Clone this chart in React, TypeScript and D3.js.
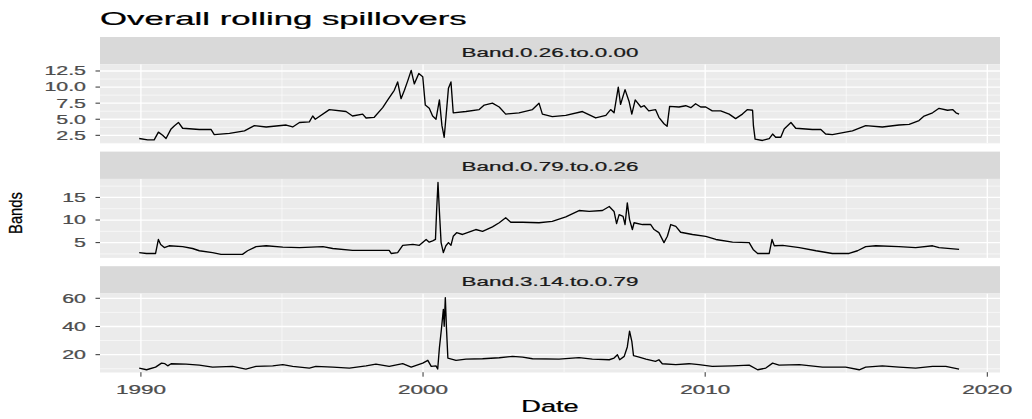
import React from 'react'
import { scaleLinear, line } from 'd3'

// decimal year, value
const band1: [number, number][] = [
  [1989.94, 2.0], [1990.24, 1.8], [1990.47, 1.8], [1990.62, 3.0], [1990.77, 2.5], [1990.89, 2.0],
  [1991.07, 3.5], [1991.19, 4.0], [1991.33, 4.5], [1991.48, 3.6], [1992.07, 3.4], [1992.49, 3.4],
  [1992.6, 2.6], [1993.14, 2.8], [1993.67, 3.2], [1994.02, 4.0], [1994.44, 3.8], [1995.15, 4.1],
  [1995.38, 3.8], [1995.62, 4.5], [1995.97, 4.6], [1996.09, 5.5], [1996.18, 5.0], [1996.68, 6.5],
  [1997.27, 6.2], [1997.5, 5.5], [1997.86, 5.8], [1997.98, 5.2], [1998.27, 5.3], [1998.57, 6.8],
  [1998.75, 8.0], [1998.98, 9.5], [1999.1, 10.8], [1999.22, 8.2], [1999.34, 9.5], [1999.46, 11.0],
  [1999.58, 12.6], [1999.69, 10.5], [1999.85, 12.1], [1999.99, 11.6], [2000.08, 7.2], [2000.22, 6.7],
  [2000.34, 5.5], [2000.46, 5.0], [2000.58, 8.0], [2000.67, 4.0], [2000.75, 2.2], [2000.81, 5.2],
  [2000.9, 9.8], [2000.99, 10.8], [2001.07, 6.0], [2001.52, 6.2], [2001.99, 6.5], [2002.17, 7.2],
  [2002.46, 7.5], [2002.7, 6.9], [2002.93, 5.8], [2003.4, 6.0], [2003.88, 6.5], [2004.11, 7.5],
  [2004.23, 5.8], [2004.58, 5.4], [2005.06, 5.6], [2005.65, 6.2], [2006.12, 5.2], [2006.48, 5.6],
  [2006.65, 6.5], [2006.77, 6.0], [2006.92, 10.0], [2007.0, 7.3], [2007.16, 9.6], [2007.3, 7.8],
  [2007.4, 5.8], [2007.52, 8.0], [2007.72, 6.9], [2007.84, 7.1], [2008.0, 6.3], [2008.24, 6.5],
  [2008.36, 5.3], [2008.54, 4.3], [2008.65, 3.9], [2008.74, 7.0], [2009.07, 6.9], [2009.31, 7.1],
  [2009.49, 6.8], [2009.66, 7.4], [2009.84, 6.9], [2010.02, 6.9], [2010.25, 6.3], [2010.55, 6.3],
  [2010.85, 5.8], [2011.08, 5.1], [2011.32, 5.8], [2011.5, 6.5], [2011.68, 6.4], [2011.71, 4.0],
  [2011.77, 1.9], [2012.03, 1.7], [2012.27, 2.0], [2012.39, 2.7], [2012.5, 2.2], [2012.68, 2.2],
  [2012.8, 3.5], [2013.04, 4.5], [2013.21, 3.6], [2013.8, 3.4], [2014.1, 3.4], [2014.27, 2.7],
  [2014.51, 2.6], [2014.98, 3.0], [2015.22, 3.2], [2015.69, 4.0], [2016.28, 3.8], [2016.87, 4.1],
  [2017.23, 4.2], [2017.58, 4.8], [2017.76, 5.5], [2018.06, 6.0], [2018.29, 6.7], [2018.59, 6.4],
  [2018.77, 6.5], [2018.89, 6.0], [2019.0, 5.8],
]

const band2: [number, number][] = [
  [1989.94, 2.8], [1990.2, 2.6], [1990.52, 2.6], [1990.62, 5.7], [1990.7, 4.6], [1990.83, 3.9],
  [1991.0, 4.3], [1991.48, 4.1], [1991.83, 3.7], [1992.07, 3.2], [1992.54, 2.8], [1992.84, 2.4],
  [1993.6, 2.4], [1993.78, 3.2], [1994.08, 4.1], [1994.44, 4.3], [1995.03, 4.0], [1995.62, 3.9],
  [1996.45, 4.1], [1996.8, 3.7], [1997.5, 3.3], [1997.98, 3.3], [1998.8, 3.3], [1998.87, 2.6],
  [1999.1, 2.8], [1999.28, 4.4], [1999.64, 4.6], [1999.87, 4.4], [2000.11, 5.7], [2000.22, 5.1],
  [2000.34, 5.4], [2000.44, 5.7], [2000.48, 11.9], [2000.53, 18.3], [2000.58, 11.9], [2000.64, 5.0],
  [2000.72, 2.8], [2000.81, 4.3], [2000.9, 5.0], [2000.99, 4.4], [2001.07, 6.4], [2001.19, 7.2],
  [2001.4, 6.8], [2001.87, 7.9], [2002.11, 7.5], [2002.46, 8.5], [2002.7, 9.4], [2002.93, 10.5],
  [2003.11, 9.5], [2003.53, 9.5], [2004.11, 9.4], [2004.58, 9.7], [2005.06, 10.7], [2005.53, 12.1],
  [2005.89, 11.9], [2006.36, 12.1], [2006.6, 13.0], [2006.77, 11.9], [2006.86, 9.2], [2006.95, 11.2],
  [2007.09, 10.8], [2007.16, 9.0], [2007.24, 13.8], [2007.32, 10.1], [2007.42, 7.9], [2007.48, 9.4],
  [2007.78, 9.0], [2008.07, 9.0], [2008.19, 7.9], [2008.36, 7.2], [2008.54, 5.0], [2008.66, 6.4],
  [2008.78, 9.0], [2008.96, 8.6], [2009.13, 7.3], [2009.55, 6.8], [2010.02, 6.4], [2010.38, 5.7],
  [2010.97, 5.1], [2011.56, 5.0], [2011.7, 3.5], [2011.86, 2.6], [2012.27, 2.6], [2012.37, 5.7],
  [2012.45, 4.3], [2012.75, 4.4], [2013.34, 3.9], [2013.93, 3.2], [2014.51, 2.6], [2015.1, 2.6],
  [2015.4, 3.2], [2015.69, 4.1], [2016.05, 4.3], [2016.87, 4.1], [2017.46, 3.9], [2018.06, 4.3],
  [2018.29, 3.9], [2019.0, 3.5],
]

const band3: [number, number][] = [
  [1989.94, 10.5], [1990.2, 9.3], [1990.52, 11.2], [1990.73, 14.0], [1990.85, 13.6], [1990.95, 12.1],
  [1991.07, 13.6], [1991.6, 13.3], [1992.07, 12.6], [1992.54, 11.2], [1993.25, 11.7], [1993.72, 9.8],
  [1994.08, 11.7], [1994.67, 12.1], [1995.03, 12.9], [1995.38, 11.7], [1995.97, 10.5], [1996.2, 11.7],
  [1996.8, 11.2], [1997.39, 10.5], [1997.98, 12.1], [1998.33, 13.3], [1998.8, 11.7], [1999.28, 13.6],
  [1999.58, 11.2], [1999.99, 14.0], [2000.17, 16.0], [2000.29, 11.7], [2000.46, 12.1], [2000.52, 9.8],
  [2000.58, 24.8], [2000.65, 37.9], [2000.72, 52.1], [2000.75, 40.2], [2000.79, 60.5], [2000.83, 39.0],
  [2000.88, 17.6], [2001.17, 16.0], [2001.52, 16.9], [2002.11, 17.1], [2002.7, 17.8], [2003.17, 18.8],
  [2003.53, 18.3], [2003.88, 17.1], [2004.82, 16.9], [2005.53, 17.9], [2006.0, 16.9], [2006.6, 16.4],
  [2006.77, 17.6], [2006.89, 20.0], [2006.97, 16.4], [2007.13, 18.8], [2007.24, 25.5], [2007.32, 36.7],
  [2007.4, 29.5], [2007.46, 19.3], [2007.66, 18.3], [2007.9, 16.9], [2008.24, 15.2], [2008.36, 16.4],
  [2008.48, 13.6], [2008.96, 12.9], [2009.43, 13.6], [2009.78, 12.9], [2010.25, 11.7], [2010.97, 12.1],
  [2011.56, 12.6], [2011.86, 9.3], [2012.15, 10.5], [2012.39, 14.0], [2012.62, 12.6], [2013.34, 12.9],
  [2014.16, 11.2], [2014.98, 11.2], [2015.46, 9.3], [2015.69, 11.2], [2016.28, 12.1], [2016.87, 11.2],
  [2017.46, 10.5], [2018.06, 11.7], [2018.53, 11.7], [2019.0, 9.8],
]

const stripLabels = ['Band.0.26.to.0.00', 'Band.0.79.to.0.26', 'Band.3.14.to.0.79']
const yDomains: [number, number][] = [[1.26, 13.54], [1.62, 19.1], [7.36, 63.4]]
const yBreaks = [[2.5, 5, 7.5, 10, 12.5], [5, 10, 15], [20, 40, 60]]
const yLabels = [['2.5', '5.0', '7.5', '10.0', '12.5'], ['5', '10', '15'], ['20', '40', '60']]
const yMinor = [[1.25, 3.75, 6.25, 8.75, 11.25, 13.75], [2.5, 7.5, 12.5, 17.5], [10, 30, 50]]
const xBreaks = [1990, 2000, 2010, 2020]
const xMinor = [1995, 2005, 2015]
const series = [band1, band2, band3]

const W = 1032
const H = 419
const left = 100
const right = 1000
const panelTops = [37, 151.6, 266.2]
const stripH = 27.3
const plotH = 79
const font = 'Liberation Sans, Arial, sans-serif'

const x = scaleLinear().domain([1988.55, 2020.45]).range([left, right])

// the reference text is drawn wide, so stretch it horizontally
const SText = ({ x, y, sx = 1.65, size, anchor = 'start', fill = '#4d4d4d', children }: any) => (
  <text
    transform={`translate(${x},${y}) scale(${sx},1)`}
    fontSize={size}
    textAnchor={anchor}
    fill={fill}
    stroke={fill}
    strokeWidth={0.25}
    fontFamily={font}
  >
    {children}
  </text>
)

const App = () => {
  return (
    <svg width={W} height={H} style={{ position: 'absolute', left: 0, top: 0, background: '#fff' }}>
      <SText x={left} y={24.5} size={18} sx={1.93} fill="#000">Overall rolling spillovers</SText>
      {series.map((data, i) => {
        const top = panelTops[i]
        const y0 = top + stripH
        const y1 = y0 + plotH
        const y = scaleLinear().domain(yDomains[i]).range([y1, y0])
        const path = line<[number, number]>().x(d => x(d[0])).y(d => y(d[1]))(data)
        return (
          <g key={i}>
            <rect x={left} y={top} width={right - left} height={stripH} fill="#d9d9d9" />
            <SText x={(left + right) / 2} y={top + 19.6} size={13.5} sx={1.66} anchor="middle" fill="#1a1a1a">
              {stripLabels[i]}
            </SText>
            <rect x={left} y={y0} width={right - left} height={plotH} fill="#ebebeb" />
            <g clipPath={`url(#clip${i})`}>
              {yMinor[i].map(v => (
                <line key={'ym' + v} x1={left} x2={right} y1={y(v)} y2={y(v)} stroke="#fff" strokeWidth={0.6} />
              ))}
              {xMinor.map(v => (
                <line key={'xm' + v} x1={x(v)} x2={x(v)} y1={y0} y2={y1} stroke="#fff" strokeWidth={0.6} />
              ))}
              {yBreaks[i].map(v => (
                <line key={'yb' + v} x1={left} x2={right} y1={y(v)} y2={y(v)} stroke="#fff" strokeWidth={1.3} />
              ))}
              {xBreaks.map(v => (
                <line key={'xb' + v} x1={x(v)} x2={x(v)} y1={y0} y2={y1} stroke="#fff" strokeWidth={1.3} />
              ))}
            </g>
            <clipPath id={`clip${i}`}>
              <rect x={left} y={y0} width={right - left} height={plotH} />
            </clipPath>
            <path d={path || ''} fill="none" stroke="#000" strokeWidth={1.35} strokeLinejoin="round" />
            {yBreaks[i].map((v, j) => (
              <g key={'yt' + v}>
                <line x1={left - 4.5} x2={left} y1={y(v)} y2={y(v)} stroke="#333" strokeWidth={1} />
                <SText x={86} y={y(v) + 4.4} size={12.5} sx={1.71} anchor="end">{yLabels[i][j]}</SText>
              </g>
            ))}
          </g>
        )
      })}
      {xBreaks.map(v => (
        <g key={'xt' + v}>
          <line x1={x(v)} x2={x(v)} y1={372.2} y2={376.7} stroke="#333" strokeWidth={1} />
          <SText x={x(v)} y={393.5} size={12.5} sx={1.8} anchor="middle">{v}</SText>
        </g>
      ))}
      <SText x={(left + right) / 2} y={411.5} size={16} sx={1.7} anchor="middle" fill="#000">Date</SText>
      <text
        transform={`translate(22,213) rotate(-90) scale(1,1.2)`}
        fontSize={16}
        textAnchor="middle"
        textLength={42}
        lengthAdjust="spacingAndGlyphs"
        fill="#000"
        stroke="#000"
        strokeWidth={0.25}
        fontFamily={font}
      >
        Bands
      </text>
    </svg>
  )
}

export default App
